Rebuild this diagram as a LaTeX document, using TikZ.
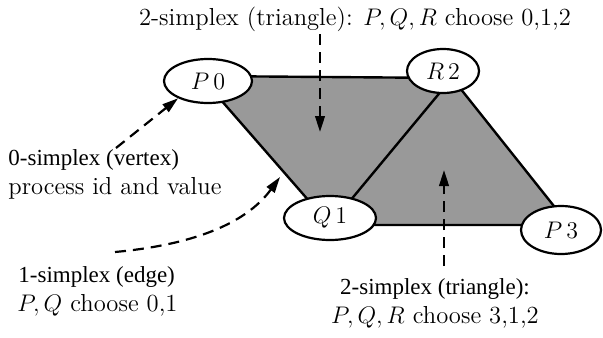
\documentclass[tikz,border=0pt]{standalone}
\usepackage{fontspec}
\newfontfamily\tms{Liberation Serif}
\usetikzlibrary{shapes.geometric,arrows.meta}
\begin{document}
\begin{tikzpicture}[x=0.5pt,y=-0.5pt,
  vtx/.style={draw,ellipse,fill=white,line width=1.1pt,inner sep=0pt,font=\fontsize{13}{15}\selectfont},
  edge/.style={line width=1.2pt},
  ptr/.style={line width=1.1pt,dash pattern=on 5.5pt off 3.5pt,-{Triangle[length=8pt,width=4.8pt]}},
  cmtext/.style={inner sep=0pt,font=\fontsize{12.3}{14}\selectfont},
  tmtext/.style={inner sep=0pt,font=\tms\fontsize{11.5}{13}\selectfont}]
\useasboundingbox (0,0) rectangle (603,337);
% shaded complex
\coordinate (a) at (200,76);
\coordinate (b) at (452,78);
\coordinate (c) at (330,225);
\coordinate (d) at (569,225);
\fill[black!40] (a) -- (b) -- (d) -- (c) -- cycle;
\draw[edge] (a) -- (b) -- (c) -- cycle;
\draw[edge] (b) -- (d) -- (c);
\node[vtx,minimum width=44pt,minimum height=22pt] (P0) at (208,81) {$P\,0$};
\node[vtx,minimum width=36pt,minimum height=22pt] (R2) at (443,71) {$R\,2$};
\node[vtx,minimum width=46pt,minimum height=22pt] (Q1) at (330,218) {$Q\,1$};
\node[vtx,minimum width=40pt,minimum height=24pt] (P3) at (561,230) {$P\,3$};
% labels
\node[cmtext] (t1) at (355,19) {2-simplex (triangle): $P,Q,R$ choose 0,1,2};
\node[tmtext,anchor=west] (t2) at (8,160) {0-simplex (vertex)};
\node[cmtext,anchor=west] (t3) at (8,188) {process id and value};
\node[tmtext,anchor=west] (t4) at (18,277) {1-simplex (edge)};
\node[cmtext,anchor=west] (t5) at (17,305) {$P,Q$ choose 0,1};
\node[tmtext] (t6) at (435,289) {2-simplex (triangle):};
\node[cmtext] (t7) at (435,317) {$P,Q,R$ choose 3,1,2};
% pointers
\coordinate (s1) at (320,34);
\coordinate (e1) at (320,132);
\draw[ptr] (s1) -- (e1);
\coordinate (s2) at (444,266);
\coordinate (e2) at (444,170);
\draw[ptr] (s2) -- (e2);
\coordinate (s3) at (116,148);
\draw[ptr] (s3) -- (P0.210);
\coordinate (s4) at (115,252);
\coordinate (e4) at (280,177);
\draw[ptr] (s4) .. controls (190,245) and (245,225) .. (e4);
\end{tikzpicture}
\end{document}
